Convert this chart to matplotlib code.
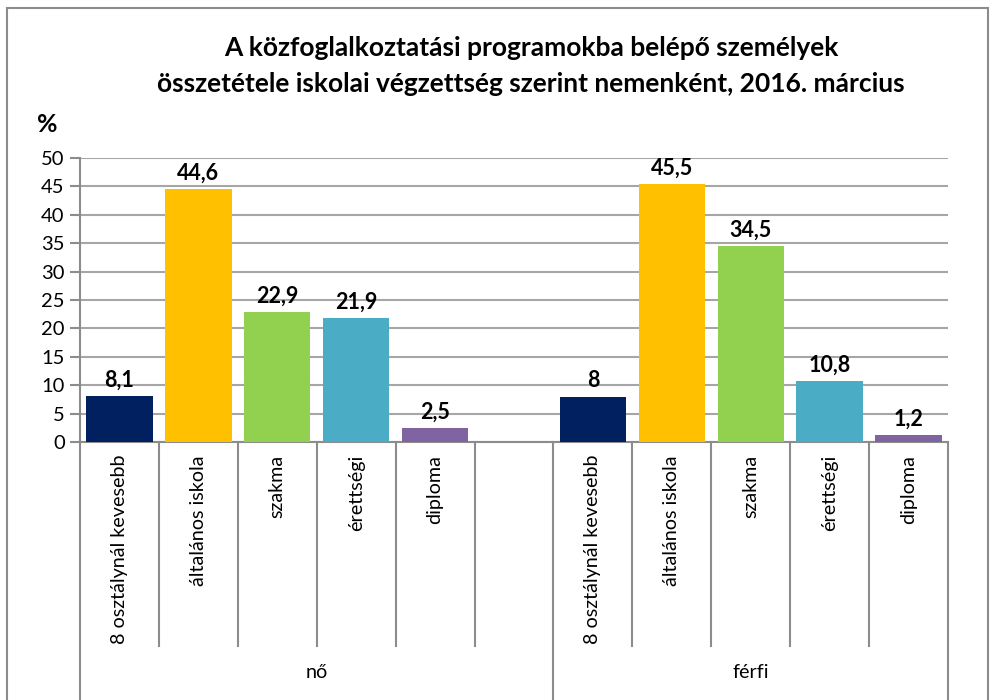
import numpy as np
import matplotlib.pyplot as plt
from matplotlib.patches import Rectangle
import matplotlib.transforms as mtransforms

plt.rcParams['font.family'] = ['Lato', 'DejaVu Sans']

# adatok
categories = ["8 osztálynál kevesebb", "általános iskola", "szakma", "érettségi", "diploma"]
groups = ["nő", "férfi"]
no_values = [8.1, 44.6, 22.9, 21.9, 2.5]
ferfi_values = [8.0, 45.5, 34.5, 10.8, 1.2]
no_labels = ["8,1", "44,6", "22,9", "21,9", "2,5"]
ferfi_labels = ["8", "45,5", "34,5", "10,8", "1,2"]
colors = ["#002060", "#FFC000", "#92D050", "#4BACC6", "#8064A2"]
yticks = [0, 5, 10, 15, 20, 25, 30, 35, 40, 45, 50]

grid_col = "#a6a6a6"
axis_col = "#8c8c8c"

fig = plt.figure(figsize=(9.93, 7.0), dpi=100)
ax = fig.add_axes([80 / 993, 1 - 442 / 700, (948 - 80) / 993, (442 - 158) / 700])

# nő: slotok 0-4, üres slot 5, férfi: slotok 6-10
n_cat = len(categories)
no_x = np.arange(n_cat) + 0.5
ferfi_x = np.arange(n_cat) + n_cat + 1 + 0.5
n_slots = 2 * n_cat + 1

ax.bar(no_x, no_values, width=0.84, color=colors, zorder=3)
ax.bar(ferfi_x, ferfi_values, width=0.84, color=colors, zorder=3)

for x, v, lab in zip(list(no_x) + list(ferfi_x), no_values + ferfi_values, no_labels + ferfi_labels):
    ax.text(x, v + 0.9, lab, ha="center", va="bottom", fontsize=15.5, fontweight="bold", zorder=4)

ax.set_xlim(0, n_slots)
ax.set_ylim(0, 50)
ax.set_yticks(yticks)
ax.set_yticklabels([str(t) for t in yticks], fontsize=14.5)
ax.yaxis.grid(True, color=grid_col, linewidth=1.5, zorder=0)
ax.set_xticks([])
ax.tick_params(axis="y", length=7, width=1.5, color=axis_col, pad=4)
for s in ["top", "right"]:
    ax.spines[s].set_visible(False)
for s in ["left", "bottom"]:
    ax.spines[s].set_color(axis_col)
    ax.spines[s].set_linewidth(1.5)

# kategória elválasztók és feliratok a tengely alatt
trans = mtransforms.blended_transform_factory(ax.transData, ax.transAxes)
inner_bottom = -(646 - 442) / (442 - 158)
outer_bottom = -(700 - 442) / (442 - 158)
group_edges = [0, n_cat + 1, n_slots]
for i in range(n_slots + 1):
    yb = outer_bottom if i in group_edges else inner_bottom
    ax.plot([i, i], [0, yb], transform=trans, color=axis_col, linewidth=1.5, clip_on=False)

for xs in (no_x, ferfi_x):
    for x, cat in zip(xs, categories):
        ax.text(x, -(455 - 442) / (442 - 158), cat, transform=trans, rotation=90,
                ha="center", va="top", fontsize=14.2)

group_y = -(672 - 442) / (442 - 158)
ax.text((group_edges[0] + group_edges[1]) / 2, group_y, groups[0], transform=trans,
        ha="center", va="center", fontsize=14.2)
ax.text((group_edges[1] + group_edges[2]) / 2, group_y, groups[1], transform=trans,
        ha="center", va="center", fontsize=14.2)

# cím és egység
fig.text(531 / 993, 1 - 48 / 700, "A közfoglalkoztatási programokba belépő személyek",
         ha="center", va="center", fontsize=19, fontweight="bold")
fig.text(531 / 993, 1 - 84 / 700, "összetétele iskolai végzettség szerint nemenként, 2016. március",
         ha="center", va="center", fontsize=19, fontweight="bold")
fig.text(47 / 993, 1 - 125 / 700, "%", ha="center", va="center", fontsize=18, fontweight="bold")

# külső keret
fig.patches.append(Rectangle((7 / 993, -0.02), (988 - 7) / 993, 1 - 8 / 700 + 0.02,
                             transform=fig.transFigure, fill=False, edgecolor="#8c8c8c",
                             linewidth=1.5))

fig.savefig("out.png", dpi=100)
